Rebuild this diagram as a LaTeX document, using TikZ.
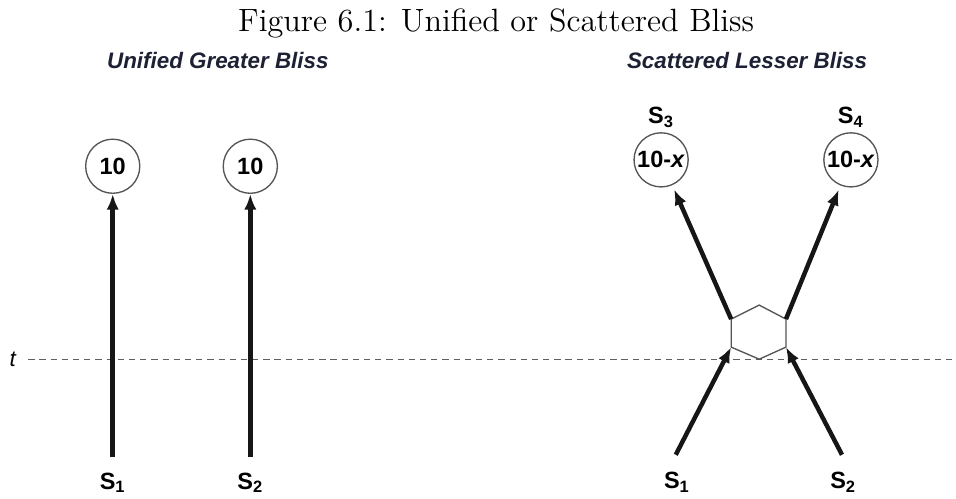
\documentclass[tikz,border=0pt]{standalone}
\usepackage{fontspec}
\setsansfont{Liberation Sans}
\usetikzlibrary{arrows.meta,positioning}
\definecolor{headblue}{RGB}{30,32,52}
\definecolor{ringgray}{RGB}{85,85,85}
\definecolor{arrowblack}{RGB}{22,22,22}
\definecolor{dashgray}{RGB}{95,95,95}
\begin{document}
\begin{tikzpicture}[
    >={Latex[length=7pt,width=5.5pt]},
    val/.style={draw=ringgray, line width=0.6pt, circle, minimum size=8.5mm, inner sep=0pt,
                font=\sffamily\bfseries\fontsize{10.5}{12}\selectfont},
    slab/.style={font=\sffamily\bfseries\fontsize{10.5}{12}\selectfont, inner sep=1pt},
    head/.style={font=\sffamily\bfseries\itshape\fontsize{10}{12}\selectfont, text=headblue, anchor=base},
    edge/.style={->, line width=2pt, draw=arrowblack},
    hexline/.style={draw=ringgray, line width=0.6pt},
    tline/.style={draw=dashgray, line width=0.6pt, dash pattern=on 2.8pt off 2.2pt}]

  \useasboundingbox (0,0) rectangle (15.01,7.82);

  % titel en koppen
  \node[anchor=base] (title) at (7.79,7.33) {\Large Figure 6.1: Unified or Scattered Bliss};
  \node[head] (hl) at (3.42,6.75) {Unified Greater Bliss};
  \node[head] (hr) at (11.73,6.75) {Scattered Lesser Bliss};

  % tijdlijn t
  \node[font=\sffamily\itshape\fontsize{10}{12}\selectfont] (tlab) at (0.20,2.18) {t};
  \coordinate (tend) at (15.01,2.18);
  \draw[tline, shorten <=2pt] (tlab) -- (tend);

  % links: twee aparte stromen
  \node[val] (c1) at (1.77,5.21) {10};
  \node[val] (c2) at (3.93,5.21) {10};
  \node[slab] (l1) at (1.77,0.24) {S\textsubscript{1}};
  \node[slab] (l2) at (3.93,0.24) {S\textsubscript{2}};
  \coordinate (b1) at (1.77,0.64);
  \coordinate (b2) at (3.93,0.64);
  \draw[edge] (b1) -- (c1);
  \draw[edge] (b2) -- (c2);

  % rechts: zeshoek waar de stromen kruisen
  \coordinate (h1) at (11.48,2.81);
  \coordinate (h2) at (11.92,3.03);
  \coordinate (h3) at (12.34,2.81);
  \coordinate (h4) at (12.34,2.37);
  \coordinate (h5) at (11.92,2.18);
  \coordinate (h6) at (11.48,2.37);
  \draw[hexline] (h1) -- (h2) -- (h3) -- (h4) -- (h5) -- (h6) -- cycle;

  % rechts: uitkomsten
  \node[val] (c3) at (10.38,5.31) {10-\textit{x}};
  \node[val] (c4) at (13.36,5.31) {10-\textit{x}};
  \node[slab, above=0.3mm of c3] (l3) {S\textsubscript{3}};
  \node[slab, above=0.3mm of c4] (l4) {S\textsubscript{4}};

  % rechts: bronnen
  \node[slab] (r1) at (10.63,0.25) {S\textsubscript{1}};
  \node[slab] (r2) at (13.24,0.25) {S\textsubscript{2}};
  \coordinate (b3) at (10.61,0.68);
  \coordinate (b4) at (13.22,0.68);

  % pijlen in en uit de zeshoek
  \draw[edge] (b3) -- (h6);
  \draw[edge] (b4) -- (h4);
  \draw[edge, shorten >=2pt] (h1) -- (c3);
  \draw[edge, shorten >=2pt] (h3) -- (c4);

\end{tikzpicture}
\end{document}
